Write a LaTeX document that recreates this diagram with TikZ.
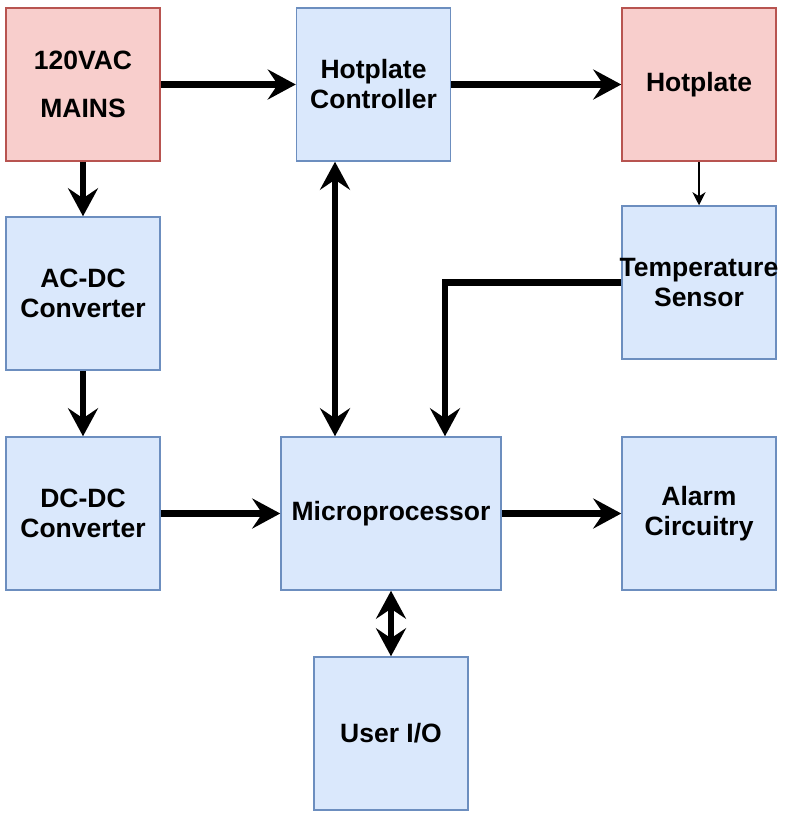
\documentclass[tikz,border=0pt]{standalone}
\usepackage{fontspec}
\setmainfont{Liberation Sans}
\definecolor{mainsred}{HTML}{F8CECC}
\definecolor{mainsline}{HTML}{B85450}
\definecolor{blockblue}{HTML}{DAE8FC}
\definecolor{blockline}{HTML}{6C8EBF}
\usetikzlibrary{arrows.meta, positioning}

\begin{document}
\begin{tikzpicture}[x=1pt, y=-1pt,
      block/.style={draw=blockline, fill=blockblue, line width=1.5pt, inner sep=0pt,
         minimum width=154pt, minimum height=153pt, align=center,
         font=\bfseries\fontsize{26.5}{30}\selectfont},
      power/.style={block, draw=mainsline, fill=mainsred},
      link/.style={line width=6.5pt, -{Stealth[length=28pt, width=30pt, inset=10pt]}},
      both/.style={link, {Stealth[length=28pt, width=30pt, inset=10pt]}-{Stealth[length=28pt, width=30pt, inset=10pt]}},
      signal/.style={line width=2pt, -{Stealth[length=13pt, width=13pt, inset=4pt]}}]

      \useasboundingbox (0,0) rectangle (785,817);

      % Top row
      \node[power] (mains) at (83,84.5) {120VAC\\[18pt]MAINS};
      \node[block] (ctrl) at (373.5,84.5) {Hotplate\\Controller};
      \node[power] (hot) at (699,84.5) {Hotplate};

      % Supply chain and sensor (the long word sticks out of its box)
      \node[block] (acdc) at (83,293.5) {AC-DC\\Converter};
      \node[block] (temp) at (699,282.5) {\makebox[140pt]{Temperature}\\Sensor};
      \node[block] (dcdc) at (83,513.5) {DC-DC\\Converter};

      % Processor row
      \node[block, minimum width=220pt] (micro) at (391,513.5) {Microprocessor};
      \node[block] (alarm) at (699,513.5) {Alarm\\Circuitry};
      \node[block] (userio) at (391,733.5) {User I/O};

      % Power and control flow
      \draw[link] (mains.east) -- (ctrl.west);
      \draw[link] (ctrl.east) -- (hot.west);
      \draw[link] (mains.south) -- (acdc.north);
      \draw[signal] (hot.south) -- (temp.north);
      \draw[link] (acdc.south) -- (dcdc.north);
      \draw[link] (dcdc.east) -- (micro.west);
      \draw[link] (micro.east) -- (alarm.west);

      % Links to the microprocessor
      \draw[both] ([xshift=-38.5pt]ctrl.south) -- ([xshift=-38.5pt]ctrl.south |- micro.north);
      \draw[link] (temp.west) -| ([xshift=54pt]micro.north);
      \draw[both] (micro.south) -- (userio.north);
\end{tikzpicture}
\end{document}
